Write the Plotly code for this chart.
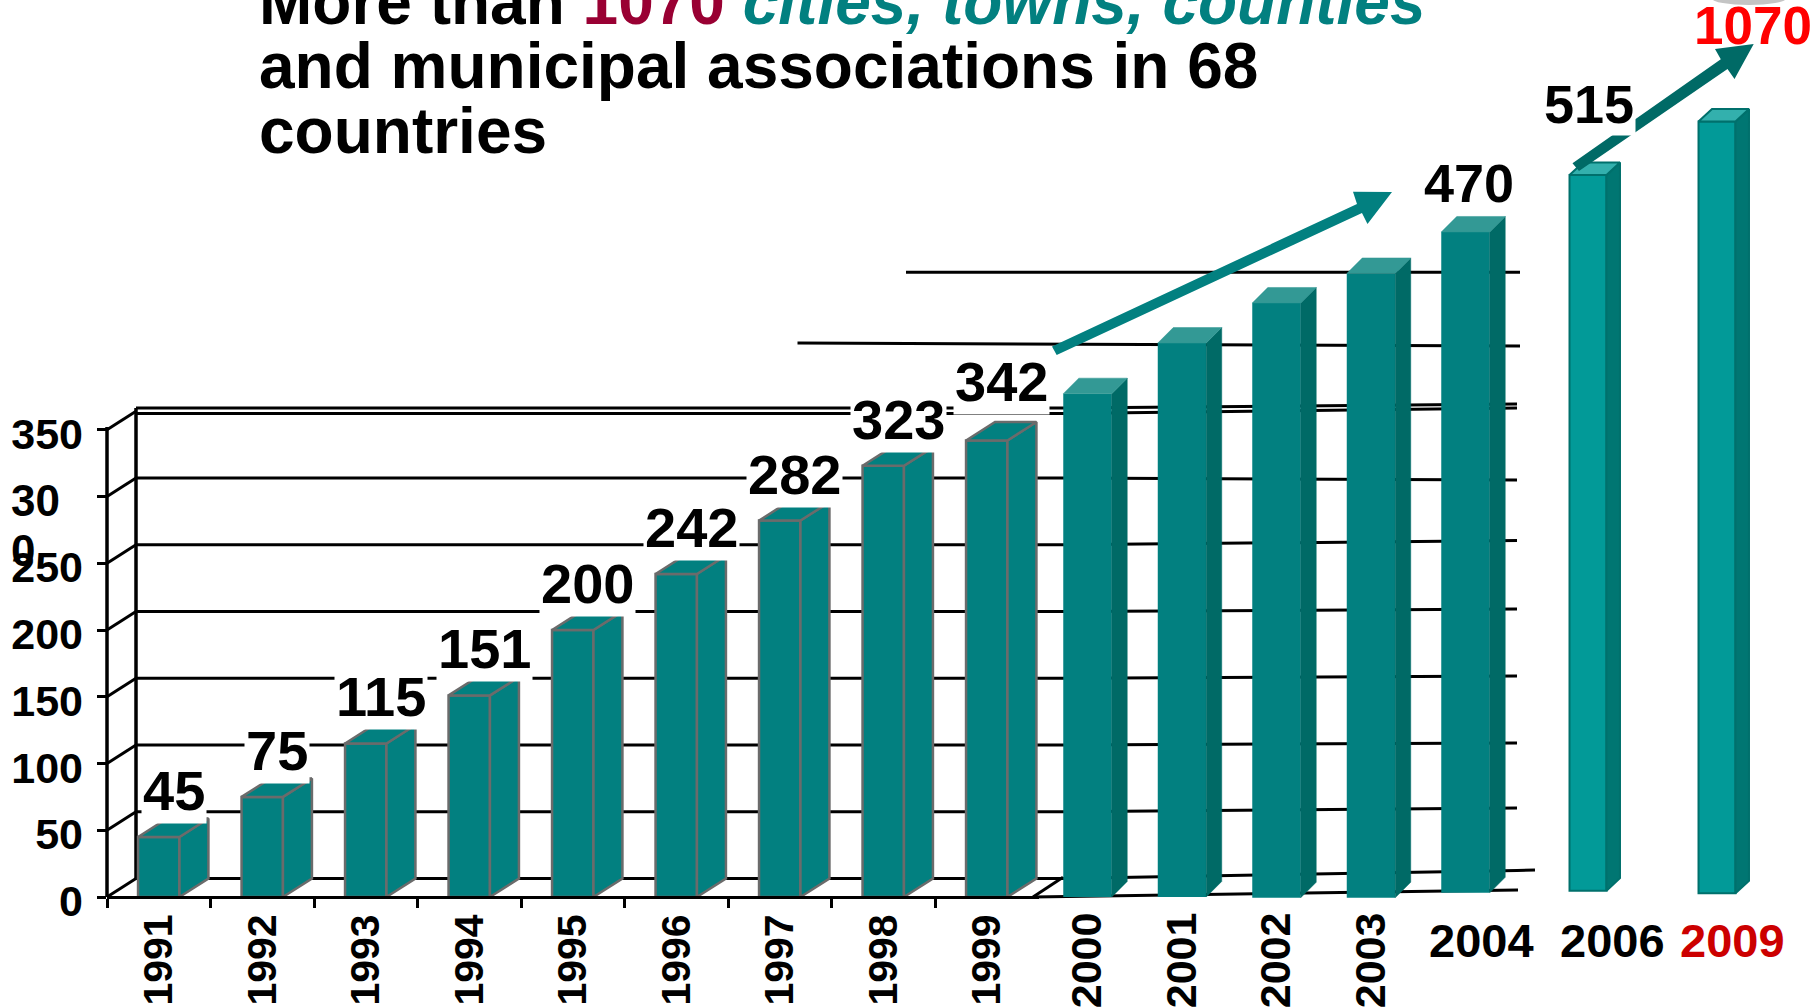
import plotly.graph_objects as go

# ---------- data ----------
years_a = [1991, 1992, 1993, 1994, 1995, 1996, 1997, 1998, 1999]
values_a = [45, 75, 115, 151, 200, 242, 282, 323, 342]
years_b = [2000, 2001, 2002, 2003, 2004]
values_b = [358, 394, 423, 444, 470]
base_b = [0, 0, -0.5, -0.5, 3]
years_c = [2006, 2009]
drawn_c = [509, 549]          # drawn height on the broken right-hand scale
base_c = [4.5, 2.6]
labels_c = ["515", "1070"]
y_ticks = [0, 50, 100, 150, 200, 250, 300, 350]
y_ticktext = ["0", "50", "100", "150", "200", "250", "", "350"]
wall_levels = [0, 50, 100, 150, 200, 250, 300, 348.3, 352.5]
wall_right = [19.9, 66.7, 115.4, 165.5, 215.7, 267, 312.4, 366.3, 369.3]

# ---------- geometry of the page ----------
W, H = 1815, 1008
FLOOR = 897
S_A, S_B = 1.335, 1.406
DEPTH_A = 13.8
FONT = "Liberation Sans"
TEAL, TEAL_SIDE, TEAL_TOP = "#028080", "#006a66", "#339995"
TEAL2, TEAL2_SIDE, TEAL2_TOP, TEAL2_EDGE = "#029a98", "#007672", "#33b0ad", "#00706c"

px = lambda x: x / W
py = lambda y: 1 - y / H
rng = lambda s, floor=FLOOR: [(floor - H) / s, floor / s]

fig = go.Figure()


def prism(years, vals, bases, width, dx, dy, front, side, top, xa, ya, edge=None, edge_w=0):
    line = dict(color=edge or front, width=edge_w)
    sx, sy, tx, ty = [], [], [], []
    for yr, v, b in zip(years, vals, bases):
        l, r, t = yr - width / 2, yr + width / 2, b + v
        sx += [r, r + dx, r + dx, r, r, None]
        sy += [b, b + dy, t + dy, t, b, None]
        tx += [l, l + dx, r + dx, r, l, None]
        ty += [t, t + dy, t + dy, t, t, None]
    for X, Y, c in ((sx, sy, side), (tx, ty, top)):
        fig.add_trace(go.Scatter(x=X, y=Y, mode="lines", fill="toself", fillcolor=c,
                                 line=line if edge_w else dict(color=c, width=0.5),
                                 xaxis=xa, yaxis=ya, hoverinfo="skip", showlegend=False))
    fig.add_trace(go.Bar(x=years, y=vals, base=bases, width=width, marker=dict(color=front, line=line),
                         xaxis=xa, yaxis=ya, hoverinfo="x+y", showlegend=False))


prism(years_a, values_a, [0] * 9, 0.4, 0.28, DEPTH_A, TEAL, TEAL, TEAL, "x", "y", "#6b6b6b", 2.5)
prism(years_b, values_b, base_b, 0.513, 15.5 / 94.5, 15.5 / S_B, TEAL, TEAL_SIDE, TEAL_TOP, "x2", "y2")
prism(years_c, drawn_c, base_c, 0.86, 13.5 / 43, 12.5 / S_B, TEAL2, TEAL2_SIDE, TEAL2_TOP, "x3", "y3", TEAL2_EDGE, 2)
# carrier of the y tick labels, which sit a little below their tick marks in the reference
fig.add_trace(go.Scatter(x=years_a[:1] * len(y_ticks), y=y_ticks, mode="none", xaxis="x", yaxis="y4",
                         hoverinfo="skip", showlegend=False))


# ---------- chart frame ----------
def seg(x0, y0, x1, y1, w=3, color="#000"):
    return dict(type="line", xref="paper", yref="y", x0=px(x0), x1=px(x1), y0=y0, y1=y1,
                layer="below", line=dict(color=color, width=w))


shapes = []
for lv, rv in zip(wall_levels, wall_right):
    shapes.append(seg(136, lv + DEPTH_A, 1063, lv + DEPTH_A))
    shapes.append(seg(1063, lv + DEPTH_A, 1517, rv))
for v in y_ticks:
    shapes.append(seg(107, v, 136, v + DEPTH_A))
shapes.append(seg(107, 0, 107, 352, 3.5))
shapes.append(seg(136, DEPTH_A, 136, 366.3, 3.5))
shapes.append(seg(1517, 19.9, 1535, 20.3))
shapes.append(seg(1033, 0, 1063, DEPTH_A + 1))
shapes.append(seg(1033, 0, 1518, 5.2))
shapes.append(seg(797.5, 415, 1520, 412.7))
shapes.append(seg(906, 468, 1520, 468))


def poly(points, color):
    d = "M" + " L".join(f"{px(x):.5f},{py(y):.5f}" for x, y in points) + " Z"
    return dict(type="path", path=d, xref="paper", yref="paper", fillcolor=color, line=dict(width=0), layer="above")


shapes.append(poly([(1052, 346.4), (1357, 204), (1353, 191.7), (1392, 192), (1367.5, 224), (1362, 213), (1056.7, 355)], TEAL))
shapes.append(poly([(1572.5, 163.3), (1720.8, 59.3), (1715, 49), (1753.7, 44), (1734.5, 79), (1727.5, 69), (1579, 171)], TEAL_SIDE))
shapes.append(dict(type="circle", xref="paper", yref="paper", x0=px(1712), x1=px(1786), y0=py(-8), y1=py(5),
                   fillcolor="#c4c4c4", line=dict(width=0), layer="below"))

# ---------- texts ----------
ann = []


def text_at(txt, x, baseline, size, color="#000", anchor="center", bg=None):
    ann.append(dict(text=txt, xref="paper", yref="paper", x=px(x), y=py(baseline + 0.22 * size + 1),
                    xanchor=anchor, yanchor="bottom", showarrow=False, bgcolor=bg,
                    font=dict(family=FONT, size=size, color=color, weight="bold")))


def value_label(txt, x, top, xa, ya, lift, size=56, color="#000", dx=15, bg="#fff"):
    ann.append(dict(text=txt, xref=xa, yref=ya, x=x, y=top, xshift=dx, yshift=lift,
                    xanchor="center", yanchor="bottom", showarrow=False, bgcolor=bg,
                    font=dict(family=FONT, size=size, color=color, weight="bold")))


for yr, v in zip(years_a, values_a):
    value_label(str(v), yr, v, "x", "y", 25 if v == 342 else 13)
value_label(str(values_b[-1]), years_b[-1], values_b[-1] + base_b[-1], "x2", "y2", 17, size=54, dx=3)
value_label(labels_c[0], years_c[0], drawn_c[0] + base_c[0], "x3", "y3", 39, size=54, dx=1)
value_label(labels_c[1], years_c[1], drawn_c[1] + base_c[1], "x3", "y3", 64, size=53, color="#ff0000", dx=36,
            bg="rgba(0,0,0,0)")

text_at("30", 9, 516, 44, anchor="left")
text_at("0", 9, 566, 44, anchor="left")
text_at("2004", 1481, 958, 47)
text_at("2006", 1612.7, 958, 47)
text_at("2009", 1732, 958, 47, color="#cc0000")

TITLE_SIZE = 64
TITLE_X = 257
text_at('More than <span style="color:#990033">1070</span> '
        '<span style="color:#028080"><i>cities, towns, counties</i></span>', TITLE_X, 24.7, TITLE_SIZE, anchor="left")
text_at("and municipal associations in 68", TITLE_X, 89, TITLE_SIZE, anchor="left")
text_at("countries", TITLE_X, 154.3, TITLE_SIZE, anchor="left")

# ---------- layout ----------
tick_font = dict(family=FONT, size=43, color="#000", weight="bold")
x_font = dict(family=FONT, size=41, color="#000", weight="bold")
floor_pos = py(FLOOR)
fig.update_layout(
    width=W, height=H, margin=dict(l=0, r=0, t=0, b=0, pad=0), autosize=False,
    paper_bgcolor="#fff", plot_bgcolor="rgba(0,0,0,0)", showlegend=False, barmode="overlay",
    shapes=shapes, annotations=ann,
    xaxis=dict(domain=[px(107), px(1038.5)], range=[1990.5, 1999.5], anchor="free", position=floor_pos,
               automargin=False, tickmode="array", tickvals=years_a, ticktext=[str(y) for y in years_a],
               tickangle=-90, ticks="", tickfont=x_font, showgrid=False, zeroline=False, showline=True,
               linecolor="#000", linewidth=3, ticklabelstandoff=-1,
               minor=dict(tickmode="array", tickvals=[1990.5 + i for i in range(9)], ticks="outside",
                          ticklen=9, tickwidth=2.5, tickcolor="#000", showgrid=False)),
    yaxis=dict(domain=[0, 1], range=rng(S_A), anchor="x", automargin=False, tickmode="array", tickvals=y_ticks,
               ticks="outside", ticklen=9, tickwidth=2.5, tickcolor="#000", showticklabels=False,
               showgrid=False, zeroline=False, showline=False),
    yaxis4=dict(domain=[0, 1], range=rng(S_A, FLOOR + 4), anchor="x", overlaying="y", automargin=False,
                tickmode="array", tickvals=y_ticks, ticktext=y_ticktext, ticks="", tickfont=tick_font,
                showgrid=False, zeroline=False, showline=False, ticklabelstandoff=23),
    xaxis2=dict(domain=[px(1040.25), px(1512.75)], range=[1999.5, 2004.5], anchor="free", position=floor_pos,
                automargin=False, tickmode="array", tickvals=years_b[:-1], ticktext=[str(y) for y in years_b[:-1]],
                tickangle=-90, ticks="", tickfont=dict(family=FONT, size=43, color="#000", weight="bold"),
                showgrid=False, zeroline=False, showline=False, ticklabelstandoff=6),
    yaxis2=dict(domain=[0, 1], range=rng(S_B), anchor="x2", visible=False, automargin=False),
    xaxis3=dict(domain=[px(1523.5), px(1781.5)], range=[2004.5, 2010.5], anchor="free", position=floor_pos,
                visible=False, automargin=False),
    yaxis3=dict(domain=[0, 1], range=rng(S_B), anchor="x3", visible=False, automargin=False),
)

fig.write_html("out.html", config=dict(displayModeBar=False),
               post_script="document.body.style.margin='0';document.body.style.overflow='hidden';")
